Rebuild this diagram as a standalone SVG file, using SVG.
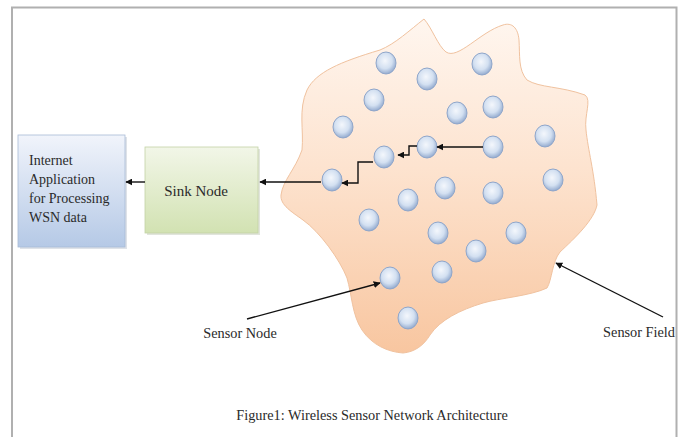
<svg xmlns="http://www.w3.org/2000/svg" width="686" height="437" viewBox="0 0 686 437">
<defs>
<linearGradient id="gBlob" x1="0" y1="0" x2="0" y2="1">
<stop offset="0" stop-color="#fff6ef"/>
<stop offset="0.45" stop-color="#fde3cf"/>
<stop offset="1" stop-color="#f8c6a0"/>
</linearGradient>
<radialGradient id="gNode" cx="0.45" cy="0.4" r="0.6">
<stop offset="0" stop-color="#f4f7fc"/>
<stop offset="0.6" stop-color="#d3e0f1"/>
<stop offset="1" stop-color="#94abcf"/>
</radialGradient>
<linearGradient id="gSink" x1="0" y1="0" x2="0" y2="1">
<stop offset="0" stop-color="#f2f6e8"/>
<stop offset="1" stop-color="#d2e2b2"/>
</linearGradient>
<linearGradient id="gNet" x1="0" y1="0" x2="0" y2="1">
<stop offset="0" stop-color="#f1f4fb"/>
<stop offset="1" stop-color="#b5c9e6"/>
</linearGradient>
<marker id="ah" viewBox="0 0 10 10" refX="9" refY="5" markerWidth="7" markerHeight="7" orient="auto" markerUnits="userSpaceOnUse">
<path d="M0,0 L10,5 L0,10 z" fill="#111"/>
</marker>
</defs>
<style>
.lbl{font-family:"Liberation Serif","Times New Roman",serif;font-size:14px;fill:#2a2a2a}
.big{font-size:14.3px}
.sn{fill:url(#gNode);stroke:#8fa6ca;stroke-width:1}
.con{fill:none;stroke:#111;stroke-width:1.4;marker-end:url(#ah)}
</style>
<rect x="0" y="0" width="686" height="437" fill="#ffffff"/>
<path d="M12,440 L12,7.5 L676.5,7.5 L676.5,440" fill="none" stroke="#b0b0b0" stroke-width="2"/>

<g id="sensor-field">
<path d="M424,19 C432,28 438,46 446,52 C458,60 480,32 503,25 C512,22 518,28 519,40 C520,55 518,70 527,80 C540,88 560,86 585,95 C592,100 584,115 586,130 C588,150 594,170 597,205 C594,220 575,238 560,252 C552,262 552,280 547,288 C530,296 500,298 483,303 C460,310 440,320 430,335 C424,345 415,352 403,353 C388,352 372,345 362,330 C352,315 352,295 347,278 C340,260 320,232 303,220 C292,212 280,205 281,195 C283,180 295,170 302,150 C304,130 298,110 307,90 C316,72 340,62 380,50 C395,44 410,30 424,19 Z" fill="url(#gBlob)" stroke="#f0c29f" stroke-width="1"/>
</g>

<g id="sensor-nodes">
<ellipse class="sn" cx="386" cy="63" rx="10" ry="11"/>
<ellipse class="sn" cx="427" cy="79" rx="10" ry="11"/>
<ellipse class="sn" cx="482" cy="64" rx="10" ry="11"/>
<ellipse class="sn" cx="374" cy="100" rx="10" ry="11"/>
<ellipse class="sn" cx="457" cy="113" rx="10" ry="11"/>
<ellipse class="sn" cx="493" cy="107" rx="10" ry="11"/>
<ellipse class="sn" cx="343" cy="127" rx="10" ry="11"/>
<ellipse class="sn" cx="545" cy="136" rx="10" ry="11"/>
<ellipse class="sn" cx="384" cy="157" rx="10" ry="11"/>
<ellipse class="sn" cx="427" cy="147" rx="10" ry="11"/>
<ellipse class="sn" cx="493" cy="147" rx="10" ry="11"/>
<ellipse class="sn" cx="332" cy="180" rx="10" ry="11"/>
<ellipse class="sn" cx="553" cy="180" rx="10" ry="11"/>
<ellipse class="sn" cx="408" cy="200" rx="10" ry="11"/>
<ellipse class="sn" cx="445" cy="188" rx="10" ry="11"/>
<ellipse class="sn" cx="493" cy="193" rx="10" ry="11"/>
<ellipse class="sn" cx="369" cy="220" rx="10" ry="11"/>
<ellipse class="sn" cx="438" cy="233" rx="10" ry="11"/>
<ellipse class="sn" cx="476" cy="251" rx="10" ry="11"/>
<ellipse class="sn" cx="516" cy="233" rx="10" ry="11"/>
<ellipse class="sn" cx="442" cy="272" rx="10" ry="11"/>
<ellipse class="sn" cx="390" cy="278" rx="10" ry="11"/>
<ellipse class="sn" cx="408" cy="318" rx="10" ry="11"/>
</g>

<g id="internet-app">
<rect x="20" y="137" width="107" height="112" fill="#c8cfd9" opacity="0.6"/>
<rect x="18" y="135" width="107" height="112" fill="url(#gNet)" stroke="#a9bbd6" stroke-width="0.8"/>
<text class="lbl" x="29" y="165">Internet</text>
<text class="lbl" x="29" y="184">Application</text>
<text class="lbl" x="29" y="203">for Processing</text>
<text class="lbl" x="29" y="222">WSN data</text>
</g>

<g id="sink-node">
<rect x="147" y="149" width="113" height="86" fill="#cdd3c4" opacity="0.6"/>
<rect x="145" y="147" width="113" height="86" fill="url(#gSink)" stroke="#c3d3a6" stroke-width="0.8"/>
<text class="lbl" x="196" y="196" text-anchor="middle" style="font-size:15px">Sink Node</text>
</g>

<g id="connectors">
<path class="con" d="M483,147 L437,147"/>
<path class="con" d="M417,146 L409,146 L409,155 L398,155"/>
<path class="con" d="M373,162 L358,162 L358,183 L342,183"/>
<path class="con" d="M321,182 L260,182"/>
<path class="con" d="M145,182 L126,182"/>
<path class="con" d="M247,319 L380,283"/>
<path class="con" d="M663,317 L556,263"/>
</g>

<g id="labels">
<text class="lbl big" x="240" y="338" text-anchor="middle">Sensor Node</text>
<text class="lbl big" x="675" y="337" text-anchor="end">Sensor Field</text>
<text class="lbl big" x="372" y="420" text-anchor="middle">Figure1: Wireless Sensor Network Architecture</text>
</g>
</svg>
